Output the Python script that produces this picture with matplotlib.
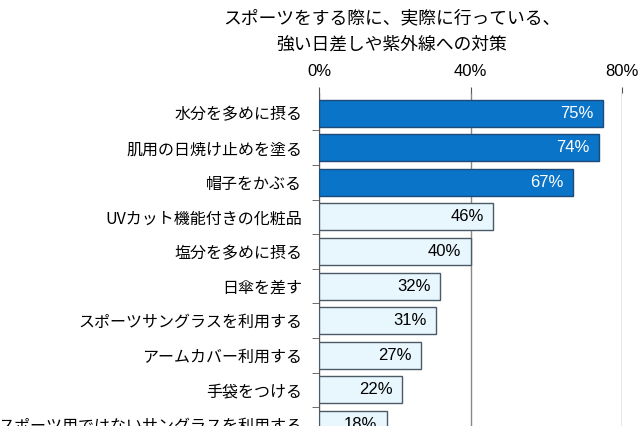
import numpy as np
import matplotlib.pyplot as plt

plt.rcParams['font.family'] = ['Noto Sans CJK JP', 'DejaVu Sans']

categories = ['水分を多めに摂る', '肌用の日焼け止めを塗る', '帽子をかぶる',
              'UVカット機能付きの化粧品', '塩分を多めに摂る', '日傘を差す',
              'スポーツサングラスを利用する', 'アームカバー利用する', '手袋をつける',
              'スポーツ用ではないサングラスを利用する']
values = [75, 74, 67, 46, 40, 32, 31, 27, 22, 18]
highlight = 3
xticks = [0, 40, 80]
title_lines = ['スポーツをする際に、実際に行っている、', '強い日差しや紫外線への対策']

W, H = 639, 426
fig = plt.figure(figsize=(W / 100, H / 100), dpi=100)

# axes in pixel units; bottom runs past the image like the cropped original
left, right, top = 319, 622, 93
ytop, ybot = -0.58, 9.6
pitch = 34.6
ax_h = (ybot - ytop) * pitch
ax = fig.add_axes([left / W, (H - top - ax_h) / H, (right - left) / W, ax_h / H])

y = np.arange(len(categories))
dark = '#0a74c9'
light = '#e8f6fd'
colors = [dark if i < highlight else light for i in range(len(values))]
edges = ['#1d4a78' if i < highlight else '#4a5a66' for i in range(len(values))]
ax.barh(y, values, height=0.78, color=colors, edgecolor=edges, linewidth=1.0, zorder=3)

for i, v in enumerate(values):
    ax.annotate(f'{v}%', (v, i), xytext=(-7, 0), textcoords='offset points',
                ha='right', va='center', fontsize=12, family='Liberation Sans',
                color='white' if i < highlight else 'black', zorder=4)

ax.set_xlim(0, 80)
ax.set_ylim(ybot, ytop)
ax.xaxis.tick_top()
ax.set_xticks(xticks)
ax.set_xticklabels([f'{t}%' for t in xticks], fontsize=12, family='Liberation Sans')
ax.tick_params(axis='x', length=4, color='#555555', pad=6)
ax.grid(axis='x', color='#888888', linewidth=1.0, zorder=0)

ax.set_yticks(y)
ax.set_yticklabels(categories, fontsize=11.5)
ax.set_yticks(y[:-1] + 0.5, minor=True)
ax.tick_params(axis='y', which='major', length=0, pad=12)
ax.tick_params(axis='y', which='minor', length=5, color='#555555')

for s in ['top', 'right', 'bottom']:
    ax.spines[s].set_visible(False)
ax.spines['left'].set_color('#555555')

fig.text(392 / W, 1 - 18 / H, title_lines[0], ha='center', va='center', fontsize=12.8)
fig.text(392 / W, 1 - 45 / H, title_lines[1], ha='center', va='center', fontsize=12.8)

fig.savefig('out.png', dpi=100)
